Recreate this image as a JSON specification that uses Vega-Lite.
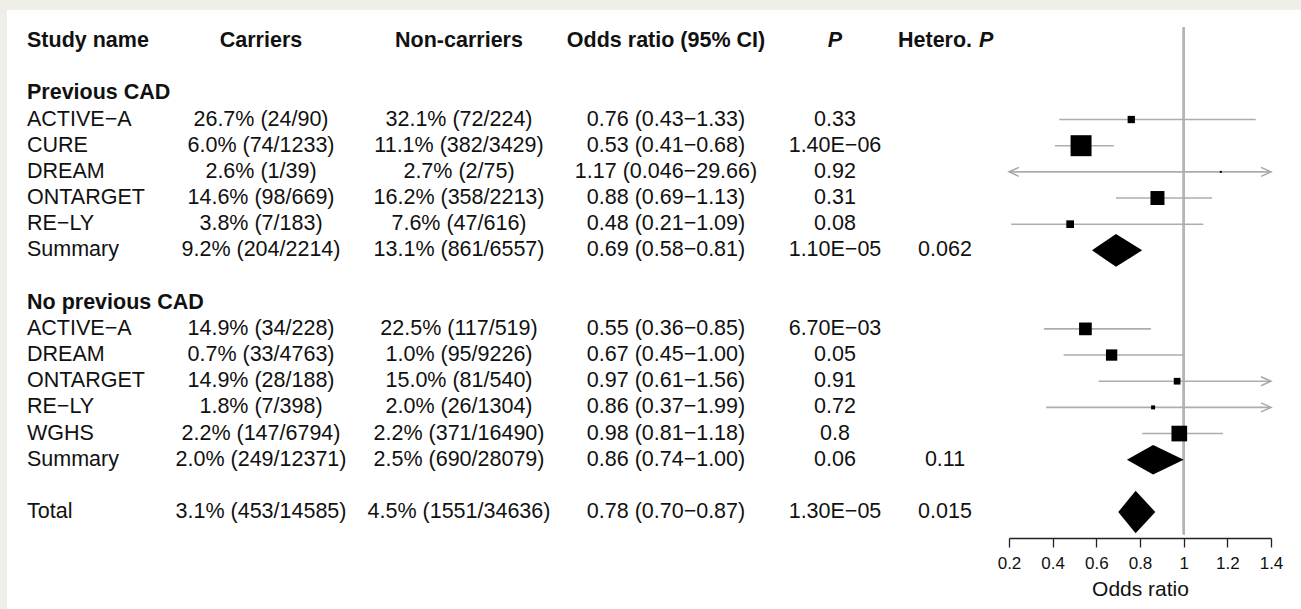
{
  "$schema": "https://vega.github.io/schema/vega-lite/v6.json",
  "padding": {"left": 7, "top": 10, "right": 0, "bottom": 0},
  "background": "#efefe7",
  "bounds": "flush",
  "spacing": 0,
  "config": {
    "view": {"fill": "white", "stroke": null},
    "text": {"font": "Liberation Sans", "fontSize": 21.5, "color": "#111111", "baseline": "middle"}
  },
  "datasets": {
    "table": [
      {"row": 0, "kind": "header", "group": "", "study": "Study name", "carriers": "Carriers", "noncarriers": "Non-carriers", "orci": "Odds ratio (95% CI)", "p": "P", "het": "Hetero."},
      {"row": 2, "kind": "group", "group": "Previous CAD", "study": "Previous CAD"},
      {"row": 3, "kind": "study", "group": "Previous CAD", "study": "ACTIVE−A", "carriers": "26.7% (24/90)", "noncarriers": "32.1% (72/224)", "orci": "0.76 (0.43−1.33)", "p": "0.33", "est": 0.76, "lo": 0.43, "hi": 1.33, "weight": 5.3},
      {"row": 4, "kind": "study", "group": "Previous CAD", "study": "CURE", "carriers": "6.0% (74/1233)", "noncarriers": "11.1% (382/3429)", "orci": "0.53 (0.41−0.68)", "p": "1.40E−06", "est": 0.53, "lo": 0.41, "hi": 0.68, "weight": 44},
      {"row": 5, "kind": "study", "group": "Previous CAD", "study": "DREAM", "carriers": "2.6% (1/39)", "noncarriers": "2.7% (2/75)", "orci": "1.17 (0.046−29.66)", "p": "0.92", "est": 1.17, "lo": 0.046, "hi": 29.66, "weight": 0.4},
      {"row": 6, "kind": "study", "group": "Previous CAD", "study": "ONTARGET", "carriers": "14.6% (98/669)", "noncarriers": "16.2% (358/2213)", "orci": "0.88 (0.69−1.13)", "p": "0.31", "est": 0.88, "lo": 0.69, "hi": 1.13, "weight": 19.6},
      {"row": 7, "kind": "study", "group": "Previous CAD", "study": "RE−LY", "carriers": "3.8% (7/183)", "noncarriers": "7.6% (47/616)", "orci": "0.48 (0.21−1.09)", "p": "0.08", "est": 0.48, "lo": 0.21, "hi": 1.09, "weight": 5.9},
      {"row": 8, "kind": "summary", "group": "Previous CAD", "study": "Summary", "carriers": "9.2% (204/2214)", "noncarriers": "13.1% (861/6557)", "orci": "0.69 (0.58−0.81)", "p": "1.10E−05", "het": "0.062", "est": 0.69, "lo": 0.58, "hi": 0.81},
      {"row": 10, "kind": "group", "group": "No previous CAD", "study": "No previous CAD"},
      {"row": 11, "kind": "study", "group": "No previous CAD", "study": "ACTIVE−A", "carriers": "14.9% (34/228)", "noncarriers": "22.5% (117/519)", "orci": "0.55 (0.36−0.85)", "p": "6.70E−03", "est": 0.55, "lo": 0.36, "hi": 0.85, "weight": 16.1},
      {"row": 12, "kind": "study", "group": "No previous CAD", "study": "DREAM", "carriers": "0.7% (33/4763)", "noncarriers": "1.0% (95/9226)", "orci": "0.67 (0.45−1.00)", "p": "0.05", "est": 0.67, "lo": 0.45, "hi": 1.0, "weight": 12.8},
      {"row": 13, "kind": "study", "group": "No previous CAD", "study": "ONTARGET", "carriers": "14.9% (28/188)", "noncarriers": "15.0% (81/540)", "orci": "0.97 (0.61−1.56)", "p": "0.91", "est": 0.97, "lo": 0.61, "hi": 1.56, "weight": 4.5},
      {"row": 14, "kind": "study", "group": "No previous CAD", "study": "RE−LY", "carriers": "1.8% (7/398)", "noncarriers": "2.0% (26/1304)", "orci": "0.86 (0.37−1.99)", "p": "0.72", "est": 0.86, "lo": 0.37, "hi": 1.99, "weight": 1.6},
      {"row": 15, "kind": "study", "group": "No previous CAD", "study": "WGHS", "carriers": "2.2% (147/6794)", "noncarriers": "2.2% (371/16490)", "orci": "0.98 (0.81−1.18)", "p": "0.8", "est": 0.98, "lo": 0.81, "hi": 1.18, "weight": 24.6},
      {"row": 16, "kind": "summary", "group": "No previous CAD", "study": "Summary", "carriers": "2.0% (249/12371)", "noncarriers": "2.5% (690/28079)", "orci": "0.86 (0.74−1.00)", "p": "0.06", "het": "0.11", "est": 0.86, "lo": 0.74, "hi": 1.0},
      {"row": 18, "kind": "total", "group": "All", "study": "Total", "carriers": "3.1% (453/14585)", "noncarriers": "4.5% (1551/34636)", "orci": "0.78 (0.70−0.87)", "p": "1.30E−05", "het": "0.015", "est": 0.78, "lo": 0.7, "hi": 0.87}
    ]
  },
  "hconcat": [
    {
      "width": 201, "height": 599,
      "data": {"name": "table"},
      "encoding": {
        "y": {"field": "row", "type": "quantitative", "scale": {"domain": [-1.185, 21.704], "reverse": true, "nice": false, "zero": false}, "axis": null},
        "x": {"datum": 0, "type": "quantitative", "scale": {"domain": [0, 1], "range": [20, 201]}, "axis": null},
        "text": {"field": "study", "type": "nominal"}
      },
      "layer": [
        {"transform": [{"filter": "datum.kind === 'header' || datum.kind === 'group'"}], "mark": {"type": "text", "align": "left", "fontWeight": "bold"}},
        {"transform": [{"filter": "datum.kind !== 'header' && datum.kind !== 'group'"}], "mark": {"type": "text", "align": "left"}}
      ]
    },
    {
      "width": 154, "height": 599,
      "data": {"name": "table"},
      "encoding": {
        "y": {"field": "row", "type": "quantitative", "scale": {"domain": [-1.185, 21.704], "reverse": true, "nice": false, "zero": false}, "axis": null},
        "text": {"field": "carriers", "type": "nominal"}
      },
      "layer": [
        {"transform": [{"filter": "datum.kind === 'header'"}], "mark": {"type": "text", "fontWeight": "bold", "dx": -24}},
        {"transform": [{"filter": "datum.kind !== 'header' && isValid(datum.carriers)"}], "mark": {"type": "text", "dx": -24}}
      ]
    },
    {
      "width": 194, "height": 599,
      "data": {"name": "table"},
      "encoding": {
        "y": {"field": "row", "type": "quantitative", "scale": {"domain": [-1.185, 21.704], "reverse": true, "nice": false, "zero": false}, "axis": null},
        "text": {"field": "noncarriers", "type": "nominal"}
      },
      "layer": [
        {"transform": [{"filter": "datum.kind === 'header'"}], "mark": {"type": "text", "fontWeight": "bold"}},
        {"transform": [{"filter": "datum.kind !== 'header' && isValid(datum.noncarriers)"}], "mark": {"type": "text"}}
      ]
    },
    {
      "width": 220, "height": 599,
      "data": {"name": "table"},
      "encoding": {
        "y": {"field": "row", "type": "quantitative", "scale": {"domain": [-1.185, 21.704], "reverse": true, "nice": false, "zero": false}, "axis": null},
        "text": {"field": "orci", "type": "nominal"}
      },
      "layer": [
        {"transform": [{"filter": "datum.kind === 'header'"}], "mark": {"type": "text", "fontWeight": "bold"}},
        {"transform": [{"filter": "datum.kind !== 'header' && isValid(datum.orci)"}], "mark": {"type": "text"}}
      ]
    },
    {
      "width": 118, "height": 599,
      "data": {"name": "table"},
      "encoding": {
        "y": {"field": "row", "type": "quantitative", "scale": {"domain": [-1.185, 21.704], "reverse": true, "nice": false, "zero": false}, "axis": null},
        "text": {"field": "p", "type": "nominal"}
      },
      "layer": [
        {"transform": [{"filter": "datum.kind === 'header'"}], "mark": {"type": "text", "fontWeight": "bold", "fontStyle": "italic"}},
        {"transform": [{"filter": "datum.kind !== 'header' && isValid(datum.p)"}], "mark": {"type": "text"}}
      ]
    },
    {
      "width": 102, "height": 599,
      "data": {"name": "table"},
      "encoding": {
        "y": {"field": "row", "type": "quantitative", "scale": {"domain": [-1.185, 21.704], "reverse": true, "nice": false, "zero": false}, "axis": null}
      },
      "layer": [
        {"transform": [{"filter": "datum.kind === 'header'"}], "mark": {"type": "text", "fontWeight": "bold", "align": "left", "dx": -47}, "encoding": {"text": {"field": "het", "type": "nominal"}}},
        {"transform": [{"filter": "datum.kind === 'header'"}], "mark": {"type": "text", "fontWeight": "bold", "fontStyle": "italic", "align": "left", "dx": 34}, "encoding": {"text": {"field": "p", "type": "nominal"}}},
        {"transform": [{"filter": "datum.kind !== 'header' && isValid(datum.het)"}], "mark": {"type": "text"}, "encoding": {"text": {"field": "het", "type": "nominal"}}}
      ]
    },
    {
      "width": 305, "height": 599,
      "data": {"name": "table"},
      "layer": [
        {
          "mark": {"type": "rule", "color": "#b4b4b4", "strokeWidth": 1.5},
          "encoding": {
            "x": {"datum": 1, "type": "quantitative", "scale": {"domain": [0.2, 1.4], "range": [13, 275], "clamp": true, "nice": false, "zero": false},
              "axis": {"values": [0.2, 0.4, 0.6, 0.8, 1, 1.2, 1.4], "format": "~g", "offset": -71, "grid": false, "labelFlush": false, "labelOverlap": false,
                "domainColor": "#222222", "domainWidth": 1.3, "tickColor": "#222222", "tickWidth": 1.3, "tickSize": 9,
                "labelFont": "Liberation Sans", "labelFontSize": 17, "labelColor": "#111111", "labelPadding": 8,
                "title": "Odds ratio", "titleFont": "Liberation Sans", "titleFontSize": 21, "titleFontWeight": "normal", "titleColor": "#111111", "titleY": 40, "titleBaseline": "top"}},
            "y": {"datum": -0.53, "type": "quantitative", "scale": {"domain": [-1.185, 21.704], "reverse": true, "nice": false, "zero": false}, "axis": null},
            "y2": {"datum": 18.85}
          }
        },
        {
          "transform": [{"filter": "datum.kind === 'study'"}],
          "mark": {"type": "rule", "color": "#adadad", "strokeWidth": 1.6},
          "encoding": {
            "x": {"field": "lo", "type": "quantitative"},
            "x2": {"field": "hi"},
            "y": {"field": "row", "type": "quantitative"}
          }
        },
        {
          "transform": [{"filter": "datum.kind === 'study' && datum.hi > 1.4"}],
          "mark": {"type": "point", "filled": false, "color": "#a8a8a8", "strokeWidth": 1.5, "opacity": 1, "size": 400, "shape": "M-1,-0.45L0,0L-1,0.45"},
          "encoding": {
            "x": {"field": "hi", "type": "quantitative"},
            "y": {"field": "row", "type": "quantitative"}
          }
        },
        {
          "transform": [{"filter": "datum.kind === 'study' && datum.lo < 0.2"}],
          "mark": {"type": "point", "filled": false, "color": "#a8a8a8", "strokeWidth": 1.5, "opacity": 1, "size": 400, "shape": "M1,-0.45L0,0L1,0.45"},
          "encoding": {
            "x": {"field": "lo", "type": "quantitative"},
            "y": {"field": "row", "type": "quantitative"}
          }
        },
        {
          "transform": [{"filter": "datum.kind === 'study'"}],
          "mark": {"type": "point", "shape": "square", "filled": true, "color": "#000000", "opacity": 1},
          "encoding": {
            "x": {"field": "est", "type": "quantitative"},
            "y": {"field": "row", "type": "quantitative"},
            "size": {"field": "weight", "type": "quantitative", "scale": {"domain": [0, 50], "range": [0, 500]}, "legend": null}
          }
        },
        {
          "transform": [{"filter": "datum.kind === 'summary' || datum.kind === 'total'"}],
          "mark": {"type": "point", "filled": true, "color": "#000000", "opacity": 1, "size": 2500},
          "encoding": {
            "x": {"field": "est", "type": "quantitative"},
            "y": {"field": "row", "type": "quantitative"},
            "shape": {"field": "group", "type": "nominal", "scale": {"domain": ["Previous CAD", "No previous CAD", "All"], "range": ["M-0.96,0L0,-0.655L1.048,0L0,0.655Z", "M-1.048,0L0,-0.59L1.224,0L0,0.59Z", "M-0.696,0L0,-0.852L0.788,0L0,0.852Z"]}, "legend": null}
          }
        }
      ]
    }
  ]
}
